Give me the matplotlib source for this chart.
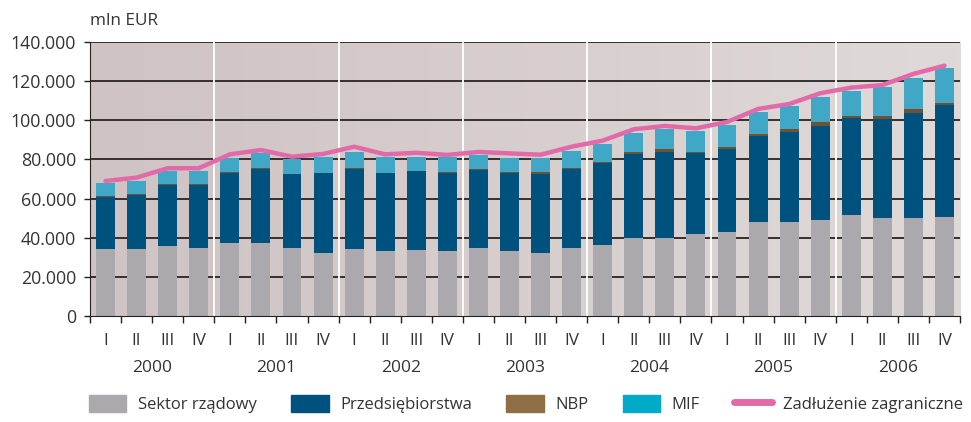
import matplotlib

matplotlib.use("Agg")
import matplotlib.pyplot as plt
import numpy as np
from matplotlib.colors import LinearSegmentedColormap
from matplotlib.lines import Line2D
from matplotlib.patches import Patch
from matplotlib.ticker import FuncFormatter

plt.rcParams["font.family"] = ["Open Sans", "DejaVu Sans"]

years = ["2000", "2001", "2002", "2003", "2004", "2005", "2006"]
quarters = ["I", "II", "III", "IV"]

# values in thousands of mln EUR
sektor_rzadowy = [34.4, 34.4, 35.8, 34.9, 37.3, 37.3, 34.9, 32.4,
                  34.4, 33.4, 33.9, 33.4, 34.9, 33.4, 32.4, 34.9,
                  36.3, 40.0, 40.0, 42.1, 43.1, 48.2, 48.2, 49.2,
                  51.8, 50.2, 50.2, 50.7]
przedsiebiorstwa = [26.6, 27.6, 31.0, 32.2, 35.9, 38.0, 37.5, 40.5,
                    40.9, 39.5, 40.0, 39.8, 39.9, 39.8, 40.3, 40.4,
                    42.0, 42.9, 44.0, 41.4, 42.4, 43.9, 46.0, 48.0,
                    49.5, 50.6, 53.5, 57.1]
nbp = [0.5, 0.5, 0.5, 0.5, 0.5, 0.5, 0.3, 0.3,
       0.5, 0.3, 0.4, 0.2, 0.2, 0.5, 0.9, 0.2,
       0.5, 0.9, 1.5, 0.5, 1.0, 1.1, 1.5, 2.0,
       1.0, 1.5, 2.2, 1.0]
mif = [6.6, 6.6, 6.6, 6.5, 7.2, 7.3, 7.4, 8.2,
       8.0, 7.9, 6.8, 7.9, 7.1, 7.0, 7.1, 9.0,
       9.2, 9.7, 9.9, 10.7, 11.3, 11.2, 11.8, 12.9,
       12.8, 14.9, 15.9, 18.1]
zadluzenie = [69.0, 70.7, 75.5, 75.5, 82.6, 84.8, 81.4, 82.8,
              86.5, 82.6, 83.4, 82.3, 83.8, 83.1, 82.4, 86.5,
              89.6, 95.4, 97.1, 95.9, 99.1, 105.8, 108.3, 113.8,
              116.7, 118.0, 123.7, 127.9]

c_gov = "#aba8ae"
c_ent = "#00527e"
c_nbp = "#6e5232"
c_mif = "#40a8c6"
c_line = "#e36aa9"
c_text = "#333333"

x = np.arange(len(sektor_rzadowy))
scale = 1000.0
gov = np.array(sektor_rzadowy) * scale
ent = np.array(przedsiebiorstwa) * scale
nb = np.array(nbp) * scale
mf = np.array(mif) * scale
total = np.array(zadluzenie) * scale

fig = plt.figure(figsize=(9.71, 4.22), dpi=100)
ax = fig.add_axes([0.0927, 0.2512, 0.896, 0.6493])
ax.set_xlim(-0.5, len(x) - 0.5)
ax.set_ylim(0, 140000)

# background gradient
bg = LinearSegmentedColormap.from_list("bg", ["#cfc3c3", "#dfdad8"])
ax.imshow(np.linspace(0, 1, 256).reshape(1, -1), cmap=bg, aspect="auto",
          extent=(-0.5, len(x) - 0.5, 0, 140000), zorder=0)

for y in range(20000, 140001, 20000):
    ax.axhline(y, color="#353030", lw=1.4, zorder=1)
for b in range(4, len(x), 4):
    ax.axvline(b - 0.5, color="white", lw=1.3, zorder=1)

w = 0.61
ax.bar(x, gov, w, color=c_gov, zorder=2)
ax.bar(x, ent, w, bottom=gov, color=c_ent, zorder=2)
ax.bar(x, nb, w, bottom=gov + ent, color=c_nbp, zorder=2)
ax.bar(x, mf, w, bottom=gov + ent + nb, color=c_mif, zorder=2)
ax.plot(x, total, color=c_line, lw=3.2, solid_capstyle="round", zorder=3)

for s in ["top", "right"]:
    ax.spines[s].set_visible(False)
ax.spines["left"].set_color("#222222")
ax.spines["bottom"].set_color("#222222")

ax.yaxis.set_major_formatter(FuncFormatter(lambda v, p: f"{int(v):,}".replace(",", ".")))
ax.set_yticks(range(0, 140001, 20000))
ax.tick_params(axis="y", length=4, width=1, color="#222222", pad=6,
               labelsize=12.8, labelcolor=c_text)

ax.set_xticks(np.arange(-0.5, len(x), 1))
ax.set_xticklabels([])
ax.tick_params(axis="x", which="major", length=5, width=1, color="#222222")
ax.set_xticks(x, minor=True)
ax.set_xticklabels(quarters * len(years), minor=True)
ax.tick_params(axis="x", which="minor", length=0, pad=12,
               labelsize=12.3, labelcolor=c_text)

for i, yr in enumerate(years):
    ax.text(i * 4 + 1.5, -0.188, yr, transform=ax.get_xaxis_transform(),
            ha="center", va="center", fontsize=12.5, color=c_text)

ax.text(0.0, 1.075, "mln EUR", transform=ax.transAxes, ha="left", va="center",
        fontsize=12.3, color=c_text)

handles = [
    Patch(color=c_gov, label="Sektor rządowy"),
    Patch(color="#00527e", label="Przedsiębiorstwa"),
    Patch(color="#8f6e45", label="NBP"),
    Patch(color="#00aac8", label="MIF"),
    Line2D([], [], color=c_line, lw=5, solid_capstyle="round", label="Zadłużenie zagraniczne"),
]
fig.legend(handles=handles, loc="lower left", bbox_to_anchor=(0.076, -0.014), ncol=5,
           frameon=False, fontsize=12.0, handlelength=2.25, handleheight=1.2,
           handletextpad=0.7, columnspacing=2.05, labelcolor=c_text)

fig.savefig("out.png", dpi=100)
